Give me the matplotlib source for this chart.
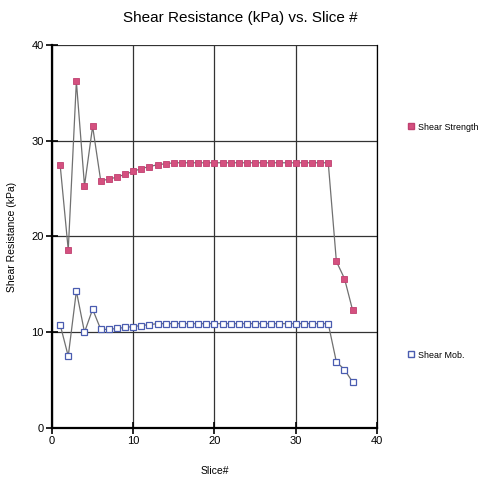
import matplotlib
matplotlib.use("Agg")
import matplotlib.pyplot as plt
from matplotlib.lines import Line2D

plt.rcParams['font.family'] = ['Liberation Sans', 'DejaVu Sans']

slices = list(range(1, 38))
shear_strength = [27.5, 18.6, 36.2, 25.3, 31.5, 25.8, 26.0, 26.2, 26.5, 26.8,
                  27.1, 27.3, 27.5, 27.6, 27.7, 27.7, 27.7, 27.7, 27.7, 27.7,
                  27.7, 27.7, 27.7, 27.7, 27.7, 27.7, 27.7, 27.7, 27.7, 27.7,
                  27.7, 27.7, 27.7, 27.7, 17.4, 15.6, 12.3]
shear_mob = [10.8, 7.5, 14.3, 10.0, 12.4, 10.3, 10.3, 10.4, 10.5, 10.6,
             10.7, 10.8, 10.9, 10.9, 10.9, 10.9, 10.9, 10.9, 10.9, 10.9,
             10.9, 10.9, 10.9, 10.9, 10.9, 10.9, 10.9, 10.9, 10.9, 10.9,
             10.9, 10.9, 10.9, 10.9, 6.9, 6.1, 4.8]
x_ticks = [0, 10, 20, 30, 40]
y_ticks = [0, 10, 20, 30, 40]

fig = plt.figure(figsize=(4.85, 4.79), dpi=100)
ax = fig.add_axes([52/485, 1 - 428/479, 325/485, 383/479])

ax.plot(slices, shear_strength, color='#707070', lw=0.9, marker='s', ms=4.6,
        mfc='#d4507f', mec='#c04070', mew=0.6, zorder=3)
ax.plot(slices, shear_mob, color='#707070', lw=0.9, marker='s', ms=4.6,
        mfc='white', mec='#4a5cb0', mew=0.9, zorder=3)

ax.set_xlim(0, 40)
ax.set_ylim(0, 40)
ax.set_xticks(x_ticks)
ax.set_yticks(y_ticks)
ax.grid(True, color='#333333', lw=0.9)
ax.set_axisbelow(True)
for s in ['left', 'bottom']:
    ax.spines[s].set_linewidth(1.6)
ax.spines['right'].set_linewidth(0.9)
ax.spines['top'].set_visible(False)
ax.tick_params(direction='inout', length=8, width=1.2, labelsize=8, pad=2)

ax.set_xlabel('Slice#', fontsize=7.5, labelpad=14)
ax.set_ylabel('Shear Resistance (kPa)', fontsize=7.5, labelpad=10)
fig.text(240/485, 1 - 18/479, 'Shear Resistance (kPa) vs. Slice #',
         ha='center', va='center', fontsize=11)

h1 = Line2D([], [], ls='none', marker='s', ms=4.6, mfc='#d4507f', mec='#c04070')
h2 = Line2D([], [], ls='none', marker='s', ms=4.6, mfc='white', mec='#4a5cb0')
fig.legend([h1], ['Shear Strength'], loc='center left',
           bbox_to_anchor=(406/485, 1 - 127/479), frameon=False, fontsize=6.4,
           handlelength=0.8, handletextpad=0.4, borderaxespad=0, borderpad=0.2)
fig.legend([h2], ['Shear Mob.'], loc='center left',
           bbox_to_anchor=(406/485, 1 - 355/479), frameon=False, fontsize=6.4,
           handlelength=0.8, handletextpad=0.4, borderaxespad=0, borderpad=0.2)

fig.savefig('out.png', dpi=100)
